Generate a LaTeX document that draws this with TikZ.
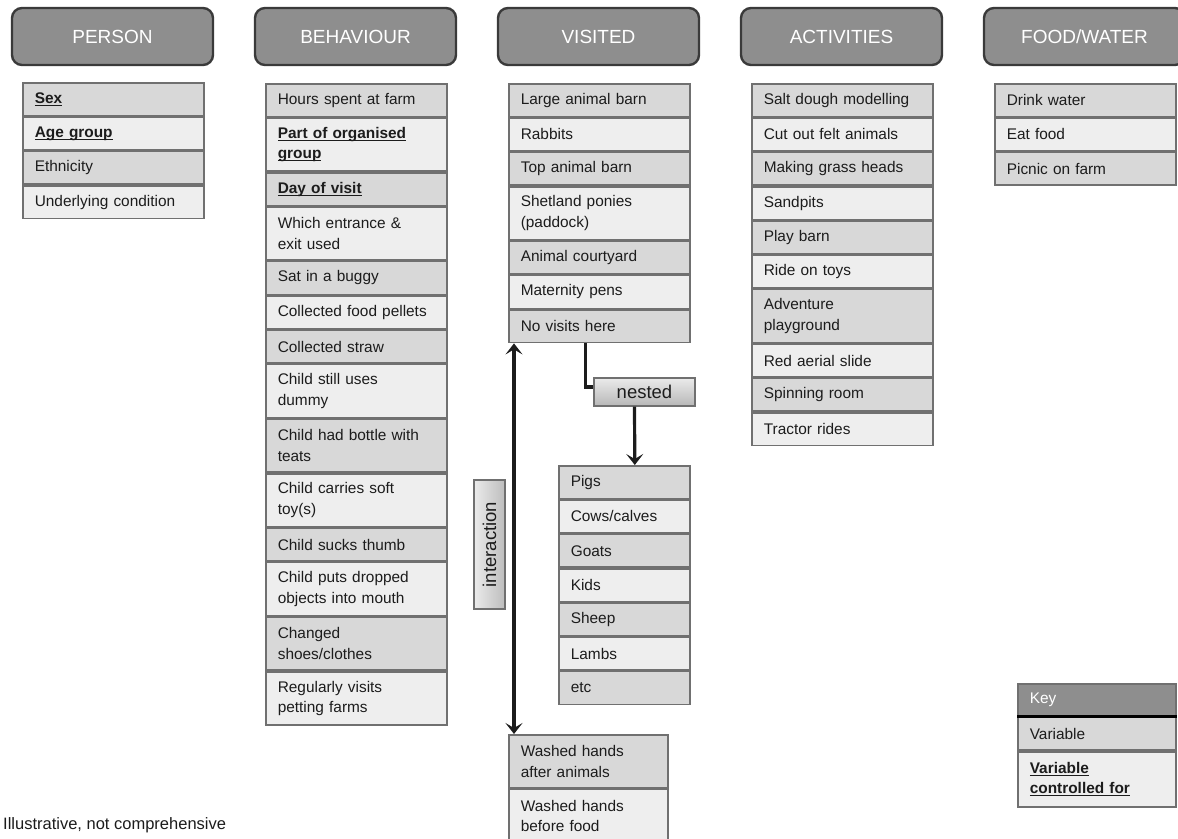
\documentclass[tikz,border=0pt]{standalone}
\usepackage{fontspec}
\setmainfont{Liberation Sans}
\usetikzlibrary{arrows.meta,shadings}
\definecolor{celldark}{HTML}{D8D8D8}
\definecolor{celllight}{HTML}{EEEEEE}
\definecolor{cellline}{HTML}{707070}
\definecolor{headfill}{HTML}{8E8E8E}
\definecolor{headline}{HTML}{3A3A3A}
\definecolor{ink}{HTML}{1C1C1C}
\newsavebox{\ctlbox}
\newcommand{\ctl}[1]{\leavevmode\sbox{\ctlbox}{\bfseries #1}\rlap{\rule[-2.6pt]{\wd\ctlbox}{1.1pt}}\usebox{\ctlbox}}
\begin{document}
\begin{tikzpicture}[x=1pt,y=-1pt,
  header/.style={draw=headline, line width=2.4pt, fill=headfill, rounded corners=10pt,
    minimum width=201pt, minimum height=57pt, inner sep=0pt, text=white,
    font=\fontsize{19}{22}\selectfont},
  cell/.style={draw=cellline, line width=1.6pt, anchor=north west, inner xsep=12pt,
    inner ysep=0pt, align=left, font=\fontsize{15.4}{20.5}\selectfont, text=ink},
  dk/.style={cell, fill=celldark},
  lt/.style={cell, fill=celllight},
  wa/.style={text width=157pt},
  wn/.style={text width=107pt},
  ww/.style={text width=135pt},
  wk/.style={text width=134pt},
  sh/.style={minimum height=32.7pt},
  dh/.style={minimum height=53pt},
  label/.style={draw=cellline, line width=1.3pt, inner sep=0pt, text=ink,
    font=\fontsize{18.5}{20}\selectfont},
  conn/.style={draw=ink, line width=3.2pt},
  arr/.style={conn, -{Stealth[length=11pt,width=17pt,inset=5pt]}},
  darr/.style={conn, {Stealth[length=11pt,width=17pt,inset=5pt]}-{Stealth[length=11pt,width=17pt,inset=5pt]}}
]
\useasboundingbox (0,0) rectangle (1178,838);

% headers
\node[header] (hP) at (112.5,36.5) {PERSON};
\node[header] (hB) at (355.5,36.5) {BEHAVIOUR};
\node[header] (hV) at (598.5,36.5) {VISITED};
\node[header] (hA) at (841.5,36.5) {ACTIVITIES};
\node[header] (hF) at (1084.5,36.5) {FOOD/WATER};

% PERSON
\node[dk,wa,sh] (p1) at (22,82) {\ctl{Sex}};
\node[lt,wa,sh] (p2) at (p1.south west) {\ctl{Age group}};
\node[dk,wa,sh] (p3) at (p2.south west) {Ethnicity};
\node[lt,wa,sh] (p4) at (p3.south west) {Underlying condition};

% BEHAVIOUR
\node[dk,wa,sh] (b1) at (265,83) {Hours spent at farm};
\node[lt,wa,dh] (b2) at (b1.south west) {\ctl{Part of organised}\\\ctl{group}};
\node[dk,wa,sh] (b3) at (b2.south west) {\ctl{Day of visit}};
\node[lt,wa,dh] (b4) at (b3.south west) {Which entrance \&\\exit used};
\node[dk,wa,sh] (b5) at (b4.south west) {Sat in a buggy};
\node[lt,wa,sh] (b6) at (b5.south west) {Collected food pellets};
\node[dk,wa,sh] (b7) at (b6.south west) {Collected straw};
\node[lt,wa,dh] (b8) at (b7.south west) {Child still uses\\dummy};
\node[dk,wa,dh] (b9) at (b8.south west) {Child had bottle with\\teats};
\node[lt,wa,dh] (b10) at (b9.south west) {Child carries soft\\toy(s)};
\node[dk,wa,sh] (b11) at (b10.south west) {Child sucks thumb};
\node[lt,wa,dh] (b12) at (b11.south west) {Child puts dropped\\objects into mouth};
\node[dk,wa,dh] (b13) at (b12.south west) {Changed\\shoes/clothes};
\node[lt,wa,dh] (b14) at (b13.south west) {Regularly visits\\petting farms};

% VISITED
\node[dk,wa,sh] (v1) at (508,83) {Large animal barn};
\node[lt,wa,sh] (v2) at (v1.south west) {Rabbits};
\node[dk,wa,sh] (v3) at (v2.south west) {Top animal barn};
\node[lt,wa,dh] (v4) at (v3.south west) {Shetland ponies\\(paddock)};
\node[dk,wa,sh] (v5) at (v4.south west) {Animal courtyard};
\node[lt,wa,sh] (v6) at (v5.south west) {Maternity pens};
\node[dk,wa,sh] (v7) at (v6.south west) {No visits here};

% nested
\node[label, minimum width=101pt, minimum height=28pt, top color=white!92!black,
  bottom color=white!72!black] (nest) at (644.5,392) {nested};

\node[dk,wn,sh] (n1) at (558,465) {Pigs};
\node[lt,wn,sh] (n2) at (n1.south west) {Cows/calves};
\node[dk,wn,sh] (n3) at (n2.south west) {Goats};
\node[lt,wn,sh] (n4) at (n3.south west) {Kids};
\node[dk,wn,sh] (n5) at (n4.south west) {Sheep};
\node[lt,wn,sh] (n6) at (n5.south west) {Lambs};
\node[dk,wn,sh] (n7) at (n6.south west) {etc};

% washed hands
\node[dk,ww,dh] (w1) at (508,734) {Washed hands\\after animals};
\node[lt,ww,dh] (w2) at (w1.south west) {Washed hands\\before food};

% interaction label
\node[label, left color=white!92!black, right color=white!74!black, rotate=90,
  minimum width=129pt, minimum height=31pt] (inter) at (489.5,544.5) {interaction};

% ACTIVITIES
\node[dk,wa,sh] (a1) at (751,83) {Salt dough modelling};
\node[lt,wa,sh] (a2) at (a1.south west) {Cut out felt animals};
\node[dk,wa,sh] (a3) at (a2.south west) {Making grass heads};
\node[lt,wa,sh] (a4) at (a3.south west) {Sandpits};
\node[dk,wa,sh] (a5) at (a4.south west) {Play barn};
\node[lt,wa,sh] (a6) at (a5.south west) {Ride on toys};
\node[dk,wa,dh] (a7) at (a6.south west) {Adventure\\playground};
\node[lt,wa,sh] (a8) at (a7.south west) {Red aerial slide};
\node[dk,wa,sh] (a9) at (a8.south west) {Spinning room};
\node[lt,wa,sh] (a10) at (a9.south west) {Tractor rides};

% FOOD/WATER
\node[dk,wa,sh] (f1) at (994,83) {Drink water};
\node[lt,wa,sh] (f2) at (f1.south west) {Eat food};
\node[dk,wa,sh] (f3) at (f2.south west) {Picnic on farm};

% Key
\node[cell, fill=headfill, text=white, wk, minimum height=32pt] (k0) at (1017,683) {Key};
\node[dk,wk,sh] (k1) at (k0.south west) {Variable};
\node[lt,wk,minimum height=55pt] (k2) at (k1.south west) {\ctl{Variable}\\\ctl{controlled for}};
\draw[line width=3.2pt, black] (k0.south west) -- (k0.south east);

% connectors
\draw[conn] ([xshift=-14pt]v7.south) |- ([yshift=5pt]nest.west);
\draw[arr] ([xshift=-10pt]nest.south) -- ([xshift=10.5pt]n1.north);
\draw[darr] ([xshift=6pt]v7.south west) -- ([xshift=6pt]w1.north west);

% footer
\node[anchor=west, inner sep=0pt, text=ink, font=\fontsize{16.5}{18}\selectfont] (foot) at (3,825) {Illustrative, not comprehensive};
\end{tikzpicture}
\end{document}
